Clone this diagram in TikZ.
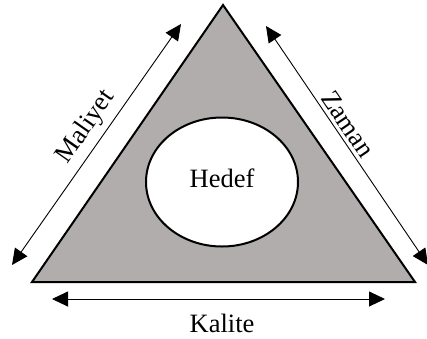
\documentclass[tikz,border=0pt]{standalone}
\usepackage{fontspec}
\setmainfont{Liberation Serif}
\usetikzlibrary{arrows.meta,shapes.geometric}
\definecolor{trigray}{RGB}{176,173,172}
\tikzset{
  dimarrow/.style={line width=0.9pt,{Triangle[length=16pt,width=15pt]}-{Triangle[length=16pt,width=15pt]}},
  lbl/.style={font=\fontsize{26.5}{30}\selectfont,inner sep=1pt}
}
\begin{document}
\begin{tikzpicture}[x=1pt,y=-1pt]
\useasboundingbox (0,0) rectangle (427,338);
\coordinate (A) at (223,5);
\coordinate (B) at (32,282);
\coordinate (C) at (415,282);
\draw[fill=trigray,line width=2pt,line join=miter] (A) -- (B) -- (C) -- cycle;
\node[ellipse,draw,fill=white,line width=2pt,minimum width=152pt,minimum height=129pt,inner sep=0pt] (hedef) at (222,182) {};
\node[lbl] (ht) at (222,178) {Hedef};
\coordinate (m1) at (12,265);
\coordinate (m2) at (181,24);
\draw[dimarrow] (m1) -- (m2);
\coordinate (z1) at (266,26);
\coordinate (z2) at (428,265);
\draw[dimarrow] (z1) -- (z2);
\coordinate (k1) at (52,299);
\coordinate (k2) at (385,299);
\draw[dimarrow] (k1) -- (k2);
\node[lbl,rotate=55] (mal) at (86,127) {Maliyet};
\node[lbl,rotate=-56] (zam) at (348,124) {Zaman};
\node[lbl] (kal) at (222,323) {Kalite};
\end{tikzpicture}
\end{document}
